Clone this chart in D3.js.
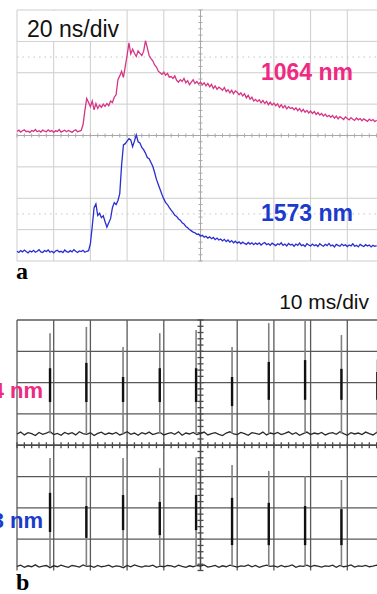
<!DOCTYPE html>
<html>
<head>
<meta charset="utf-8">
<script src="https://cdn.jsdelivr.net/npm/d3@7/dist/d3.min.js"></script>
<style>
  body { margin: 0; background: #fff; }
  svg { display: block; }
</style>
</head>
<body>
<div id="chart"></div>
<script>
// ---- data (oscilloscope readings, in screen divisions from the bottom of each panel) ----

// panel a: 20 ns/div, one sample per ns
const nsPerDiv = 20;
const pinkTrace = [
  4.13,4.17,4.11,4.15,4.18,4.12,4.14,4.10,4.16,4.13,4.19,4.12,4.15,4.11,4.17,4.14,4.12,4.18,4.13,4.16,
  4.10,4.15,4.13,4.19,4.11,4.14,4.17,4.12,4.16,4.13,4.10,4.15,4.18,4.12,4.14,4.16,
  4.35,4.80,5.18,5.05,4.92,5.10,4.82,5.02,4.86,4.97,4.90,5.00,4.93,5.02,4.95,5.10,5.05,5.22,5.30,
  5.78,5.90,6.05,5.85,6.20,6.55,6.95,6.60,6.75,6.62,6.52,6.70,6.62,6.55,6.68,7.02,6.80,6.55,6.45,
  6.38,6.25,6.18,6.05,6.00,5.95,6.02,5.92,5.98,5.86,5.88,5.82,5.90,5.76,5.70,5.78,5.72,5.82,5.68,
  5.75,5.62,5.70,5.78,5.66,5.72,5.64,5.70,
  5.62,5.68,5.58,5.66,5.55,5.63,5.50,5.58,5.47,5.54,
  5.50,5.44,5.53,5.40,5.46,5.36,5.44,5.33,5.42,5.38,
  5.30,5.36,5.26,5.33,5.20,5.28,5.16,5.22,5.10,5.15,
  5.08,5.14,5.04,5.12,5.02,5.09,4.98,5.06,4.97,5.03,
  4.95,5.01,4.90,4.98,4.88,4.95,4.85,4.92,4.86,4.89,
  4.82,4.88,4.79,4.86,4.76,4.83,4.74,4.80,4.72,4.78,
  4.70,4.76,4.67,4.73,4.65,4.70,4.62,4.68,4.60,4.64,
  4.58,4.64,4.55,4.62,4.53,4.60,4.56,4.51,4.59,4.54,
  4.50,4.57,4.52,4.48,4.56,4.50,4.54,4.47,4.53,4.49,
  4.45,4.52,4.47,4.51,4.44,4.49
];
const blueTrace = [
  0.31,0.27,0.33,0.29,0.35,0.30,0.26,0.32,0.29,0.34,0.28,0.31,0.36,0.29,0.27,0.33,0.30,0.35,0.28,0.31,
  0.26,0.32,0.34,0.29,0.31,0.27,0.35,0.30,0.28,0.33,0.29,0.36,0.31,0.27,0.32,0.30,0.34,0.28,0.31,0.33,
  0.55,1.10,1.70,1.82,1.45,1.52,1.38,1.44,1.25,1.08,1.22,1.35,1.70,1.86,1.80,1.92,2.15,3.05,3.70,3.74,
  3.82,3.90,3.86,3.64,3.82,4.02,3.80,3.76,3.62,3.55,3.44,3.30,3.26,3.14,3.02,2.82,2.60,2.44,2.28,2.12,
  1.98,1.86,1.80,1.70,1.62,1.55,1.46,1.42,1.34,1.30,1.22,1.18,1.10,1.06,1.00,0.96,0.92,0.90,0.85,0.86,
  0.80,
  0.82,0.76,0.79,0.73,0.77,0.71,0.75,0.68,0.73,0.67,
  0.70,0.64,0.69,0.62,0.67,0.60,0.65,0.58,0.63,0.57,
  0.61,0.55,0.60,0.56,0.53,0.59,0.54,0.58,0.52,0.57,
  0.53,0.58,0.51,0.56,0.59,0.52,0.55,0.50,0.57,0.53,
  0.49,0.55,0.52,0.58,0.50,0.54,0.48,0.56,0.51,0.53,
  0.47,0.54,0.50,0.57,0.49,0.52,0.46,0.55,0.51,0.48,
  0.54,0.49,0.52,0.46,0.55,0.50,0.47,0.53,0.49,0.56,
  0.48,0.51,0.45,0.53,0.50,0.47,0.54,0.49,0.52,0.46,
  0.51,0.48,0.55,0.47,0.50,0.45,0.53,0.49,0.46,0.52,
  0.48,0.51,0.45,0.50,0.47,0.49
];

// panel b: 10 ms/div, floor sampled once per ms, pulses listed separately
const msPerDiv = 10;
const pinkFloor = [
  4.36,4.42,4.33,4.40,4.37,4.31,4.41,4.35,4.39,4.44,4.34,4.38,4.32,4.41,4.36,4.40,4.33,4.43,4.37,4.35,
  4.40,4.31,4.38,4.42,4.34,4.39,4.36,4.41,4.33,4.37,4.43,4.35,4.39,4.32,4.40,4.36,4.42,4.34,4.38,4.41,
  4.33,4.37,4.40,4.35,4.43,4.32,4.39,4.36,4.41,4.34,4.38,4.42,4.33,4.37,4.40,4.35,4.31,4.39,4.43,4.36,
  4.34,4.41,4.37,4.32,4.40,4.38,4.35,4.42,4.33,4.39,4.36,4.41,4.34,4.38,4.43,4.35,4.40,4.32,4.37,4.42,
  4.34,4.39,4.36,4.41,4.33,4.38,4.40,4.35,4.43,4.37,4.32,4.40,4.36,4.39,4.34,4.42,4.37,4.33,4.41,4.38,
  4.36
];
const blueFloor = [
  0.13,0.17,0.10,0.15,0.12,0.18,0.11,0.14,0.16,0.09,0.15,0.12,0.17,0.13,0.10,0.16,0.14,0.11,0.18,0.13,
  0.15,0.10,0.16,0.12,0.14,0.17,0.11,0.15,0.13,0.09,0.16,0.12,0.18,0.14,0.11,0.15,0.13,0.17,0.10,0.14,
  0.12,0.16,0.15,0.11,0.17,0.13,0.10,0.15,0.12,0.16,0.14,0.18,0.11,0.13,0.16,0.10,0.15,0.12,0.17,0.14,
  0.11,0.15,0.13,0.18,0.12,0.16,0.10,0.14,0.17,0.13,0.15,0.11,0.16,0.12,0.14,0.18,0.10,0.15,0.13,0.17,
  0.12,0.16,0.14,0.11,0.15,0.13,0.17,0.10,0.16,0.12,0.14,0.18,0.11,0.15,0.13,0.16,0.12,0.14,0.17,0.11,
  0.13
];
const pulseMs = [9.0, 18.9, 28.9, 38.9, 48.8, 58.6, 68.6, 78.5, 88.4, 98.2];
const pinkPulseTop = [7.58, 7.78, 7.14, 7.58, 7.68, 7.14, 7.90, 7.97, 7.52, 6.74];
const pinkPulseHi  = [6.46, 6.63, 6.18, 6.46, 6.46, 6.18, 6.66, 6.72, 6.44, 6.34];
const pinkPulseLo  = [5.38, 5.38, 5.38, 5.38, 5.38, 5.25, 5.45, 5.45, 5.45, 5.45];
const bluePulseTop = [3.59, 3.02, 3.59, 3.27, 3.62, 3.37, 3.18, 3.02, 2.89];
const bluePulseHi  = [2.48, 2.06, 2.41, 2.19, 2.41, 2.32, 2.16, 2.06, 1.96];
const bluePulseLo  = [1.23, 1.04, 1.29, 1.13, 1.29, 0.81, 0.81, 0.81, 0.81];

const labels = { pink: '1064 nm', blue: '1573 nm', timeA: '20 ns/div', timeB: '10 ms/div' };

// ---- drawing ----
const W = 377, H = 594;
const PINK = '#d63585', PINK_TXT = '#ee2a82', BLUE = '#2a2fd0', BLUE_TXT = '#1b3bcc';
const nDivX = 10, nDivY = 8;

const svg = d3.select('#chart').append('svg')
  .attr('width', W).attr('height', H)
  .style('background', '#fff');

function drawGrid(g, x, y, opt) {
  const xs = d3.range(0, nDivX + 1).map(d => d * opt.perDiv);
  const ys = d3.range(0, nDivY + 1);
  const [x0, x1] = x.range();
  const [y0, y1] = y.range();

  g.selectAll('.vgrid').data(xs).enter().append('line')
    .attr('x1', d => x(d)).attr('x2', d => x(d))
    .attr('y1', y0).attr('y2', y1)
    .attr('stroke', opt.grid).attr('stroke-width', opt.gw);
  g.selectAll('.hgrid').data(ys.filter(d => opt.bottom || d > 0)).enter().append('line')
    .attr('x1', x0).attr('x2', x1)
    .attr('y1', d => y(d)).attr('y2', d => y(d))
    .attr('stroke', opt.grid).attr('stroke-width', opt.gw);

  // centre axes with minor ticks
  const cx = x(nDivX / 2 * opt.perDiv), cy = y(nDivY / 2);
  g.append('line').attr('x1', cx).attr('x2', cx).attr('y1', y0).attr('y2', y1)
    .attr('stroke', opt.axis).attr('stroke-width', opt.aw);
  g.append('line').attr('x1', x0).attr('x2', x1).attr('y1', cy).attr('y2', cy)
    .attr('stroke', opt.axis).attr('stroke-width', opt.aw);
  g.selectAll('.tx').data(d3.range(0, nDivX * 5 + 1).map(d => d * opt.perDiv / 5)).enter().append('line')
    .attr('x1', d => x(d)).attr('x2', d => x(d))
    .attr('y1', cy - opt.tl).attr('y2', cy + opt.tl)
    .attr('stroke', opt.axis).attr('stroke-width', opt.aw);
  g.selectAll('.ty').data(d3.range(0, nDivY * 5 + 1).map(d => d / 5)).enter().append('line')
    .attr('x1', cx - opt.tl).attr('x2', cx + opt.tl)
    .attr('y1', d => y(d)).attr('y2', d => y(d))
    .attr('stroke', opt.axis).attr('stroke-width', opt.aw);
}

// ---- panel a ----
const xA = d3.scaleLinear().domain([0, nDivX * nsPerDiv]).range([17, 384]);
const yA = d3.scaleLinear().domain([0, nDivY]).range([261, 10]);
const gA = svg.append('g');

drawGrid(gA, xA, yA, { perDiv: nsPerDiv, grid: '#cdcdcd', gw: 1, axis: '#a8a8a8', aw: 1, tl: 2, bottom: true });

// dotted reference levels
gA.selectAll('.ref').data([6.5, 1.5]).enter().append('line')
  .attr('x1', xA.range()[0]).attr('x2', xA.range()[1])
  .attr('y1', d => yA(d)).attr('y2', d => yA(d))
  .attr('stroke', '#c4c4c4').attr('stroke-width', 1).attr('stroke-dasharray', '1.5,4');

const lineA = d3.line().x((d, i) => xA(i)).y(d => yA(d));
gA.append('path').datum(pinkTrace).attr('d', lineA)
  .attr('fill', 'none').attr('stroke', PINK).attr('stroke-width', 1.3);
gA.append('path').datum(blueTrace).attr('d', lineA)
  .attr('fill', 'none').attr('stroke', BLUE).attr('stroke-width', 1.3);

gA.append('rect').attr('x', 18).attr('y', 11).attr('width', 108).attr('height', 30).attr('fill', '#fff');
gA.append('text').attr('x', 27).attr('y', 37)
  .attr('font-family', 'Liberation Sans, Arial, sans-serif').attr('font-size', 23)
  .attr('fill', '#111').text(labels.timeA);
gA.append('text').attr('x', 261).attr('y', 80)
  .attr('font-family', 'Liberation Sans, Arial, sans-serif').attr('font-size', 23).attr('font-weight', 'bold')
  .attr('fill', PINK_TXT).text(labels.pink);
gA.append('text').attr('x', 261).attr('y', 221)
  .attr('font-family', 'Liberation Sans, Arial, sans-serif').attr('font-size', 23).attr('font-weight', 'bold')
  .attr('fill', BLUE_TXT).text(labels.blue);

svg.append('text').attr('x', 16).attr('y', 279)
  .attr('font-family', 'Liberation Serif, Times New Roman, serif').attr('font-size', 24).attr('font-weight', 'bold')
  .text('a');

// ---- panel b ----
const xB = d3.scaleLinear().domain([0, nDivX * msPerDiv]).range([17, 384]);
const yB = d3.scaleLinear().domain([0, nDivY]).range([570.5, 320]);
const gB = svg.append('g');

drawGrid(gB, xB, yB, { perDiv: msPerDiv, grid: '#595959', gw: 1.3, axis: '#4a4a4a', aw: 1.3, tl: 3, bottom: false });

const lineB = d3.line().x((d, i) => xB(i)).y(d => yB(d));
gB.append('path').datum(pinkFloor).attr('d', lineB)
  .attr('fill', 'none').attr('stroke', '#2a2a2a').attr('stroke-width', 1.3);
gB.append('path').datum(blueFloor).attr('d', lineB)
  .attr('fill', 'none').attr('stroke', '#2a2a2a').attr('stroke-width', 1.3);

function drawPulses(top, hi, lo, floorLevel) {
  const data = top.map((t, i) => ({ t: pulseMs[i], top: t, hi: hi[i], lo: lo[i] }));
  gB.selectAll(null).data(data).enter().append('line')
    .attr('x1', d => xB(d.t)).attr('x2', d => xB(d.t))
    .attr('y1', yB(floorLevel)).attr('y2', d => yB(d.top))
    .attr('stroke', '#808080').attr('stroke-width', 1.6);
  gB.selectAll(null).data(data).enter().append('line')
    .attr('x1', d => xB(d.t)).attr('x2', d => xB(d.t))
    .attr('y1', d => yB(d.lo)).attr('y2', d => yB(d.hi))
    .attr('stroke', '#111').attr('stroke-width', 2.4);
}
drawPulses(pinkPulseTop, pinkPulseHi, pinkPulseLo, d3.mean(pinkFloor));
drawPulses(bluePulseTop, bluePulseHi, bluePulseLo, d3.mean(blueFloor));

gB.append('text').attr('x', 369).attr('y', 309).attr('text-anchor', 'end')
  .attr('font-family', 'Liberation Sans, Arial, sans-serif').attr('font-size', 21)
  .attr('fill', '#111').text(labels.timeB);
gB.append('text').attr('x', 43).attr('y', 398).attr('text-anchor', 'end')
  .attr('font-family', 'Liberation Sans, Arial, sans-serif').attr('font-size', 22).attr('font-weight', 'bold')
  .attr('fill', PINK_TXT).text(labels.pink);
gB.append('text').attr('x', 43).attr('y', 528).attr('text-anchor', 'end')
  .attr('font-family', 'Liberation Sans, Arial, sans-serif').attr('font-size', 22).attr('font-weight', 'bold')
  .attr('fill', BLUE_TXT).text(labels.blue);

svg.append('text').attr('x', 16).attr('y', 590)
  .attr('font-family', 'Liberation Serif, Times New Roman, serif').attr('font-size', 24).attr('font-weight', 'bold')
  .text('b');
</script>
</body>
</html>
